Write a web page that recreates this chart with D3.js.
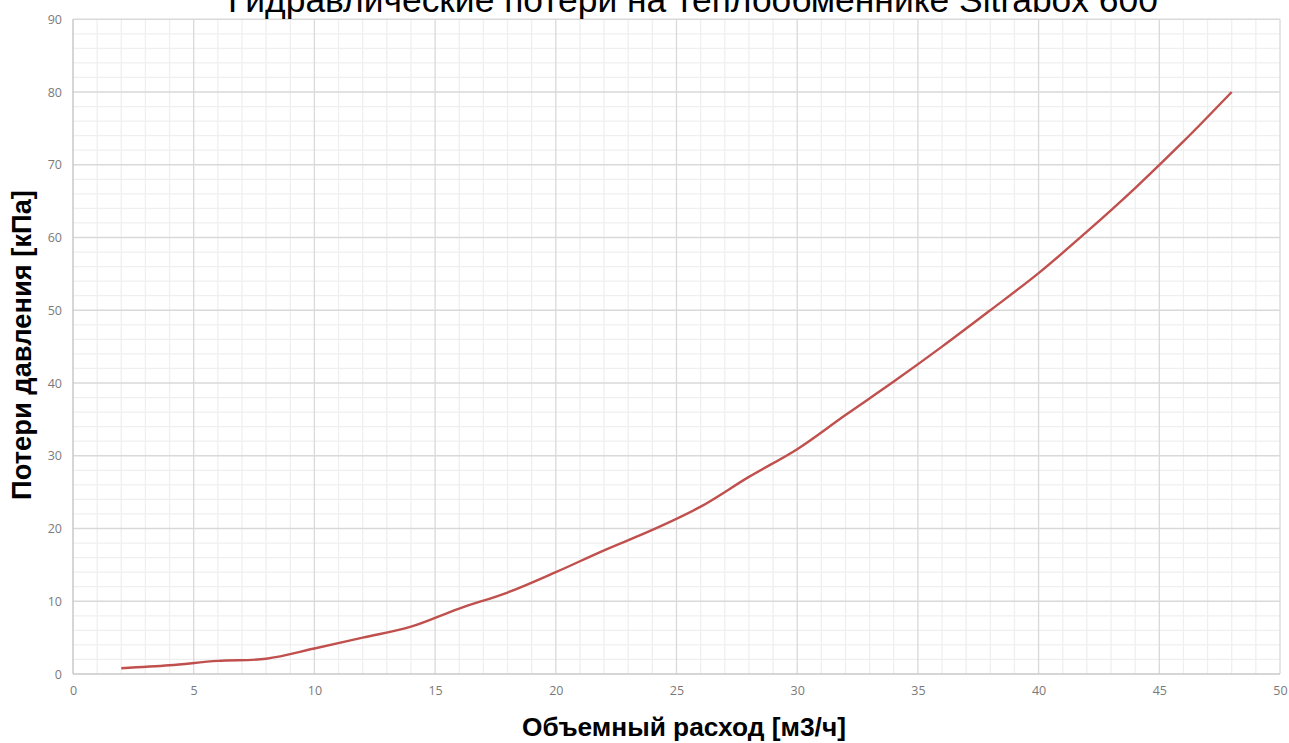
<!DOCTYPE html>
<html><head><meta charset="utf-8">
<script src="https://cdn.jsdelivr.net/npm/d3@7"></script>
<style>body{margin:0;background:#fff;}svg{display:block;}</style>
</head><body>
<svg id="c" width="1289" height="743"></svg>
<script>
const titleText = "Гидравлические потери на теплообменнике Sitrabox 600";
const xTitle = "Объемный расход [м3/ч]";
const yTitle = "Потери давления [кПа]";
const flow = [2,4,6,8,10,12,14,16,18,20,22,24,26,28,30,32,34,36,38,40,42,44,46,48];
const loss = [0.8,1.2,1.8,2.1,3.5,5.0,6.5,9.0,11.2,14.0,17.0,19.8,23.0,27.1,30.9,35.6,40.2,45.0,50.0,55.1,60.8,66.8,73.2,80.0];
const xTicks = [0,5,10,15,20,25,30,35,40,45,50];
const yTicks = [0,10,20,30,40,50,60,70,80,90];

const svg = d3.select("#c");
const L=73, R=1280, T=19.25, B=674;
const x = d3.scaleLinear().domain([0,50]).range([L,R]);
const y = d3.scaleLinear().domain([0,90]).range([B,T]);

// minor grid
const g = svg.append("g");
g.selectAll(".mx").data(d3.range(0,51,1).filter(v=>v%5)).enter().append("line")
 .attr("x1",d=>x(d)).attr("x2",d=>x(d)).attr("y1",y(0)).attr("y2",y(90))
 .attr("stroke","#efefef").attr("stroke-width",1.3);
g.selectAll(".my").data(d3.range(0,91,2).filter(v=>v%10)).enter().append("line")
 .attr("y1",d=>y(d)).attr("y2",d=>y(d)).attr("x1",x(0)).attr("x2",x(50))
 .attr("stroke","#efefef").attr("stroke-width",1.3);
// major grid
g.selectAll(".Mx").data(xTicks.slice(1)).enter().append("line")
 .attr("x1",d=>x(d)).attr("x2",d=>x(d)).attr("y1",y(0)).attr("y2",y(90))
 .attr("stroke","#d9d9d9").attr("stroke-width",1.3);
g.selectAll(".My").data(yTicks.slice(1)).enter().append("line")
 .attr("y1",d=>y(d)).attr("y2",d=>y(d)).attr("x1",x(0)).attr("x2",x(50))
 .attr("stroke","#d9d9d9").attr("stroke-width",1.3);
// axis lines
svg.append("line").attr("x1",x(0)).attr("x2",x(50)).attr("y1",y(0)).attr("y2",y(0)).attr("stroke","#c8c8c8").attr("stroke-width",1.5);
svg.append("line").attr("x1",x(0)).attr("x2",x(0)).attr("y1",y(0)).attr("y2",y(90)).attr("stroke","#c8c8c8").attr("stroke-width",1.5);

// tick labels via axes
const xa = svg.append("g").attr("transform",`translate(0,${B})`)
 .call(d3.axisBottom(x).tickValues(xTicks).tickSize(0).tickPadding(12));
const ya = svg.append("g").attr("transform",`translate(${L},0)`)
 .call(d3.axisLeft(y).tickValues(yTicks).tickSize(0).tickPadding(11));
[xa,ya].forEach(a=>{a.select(".domain").remove();
 a.selectAll("text").attr("fill","#7a7a7a").style("font-family","'Open Sans',sans-serif").style("font-size","12.5px");});

// line
svg.append("path").datum(flow.map((d,i)=>[d,loss[i]]))
 .attr("fill","none").attr("stroke","#c0504d").attr("stroke-width",2.4)
 .attr("d",d3.line().x(d=>x(d[0])).y(d=>y(d[1])).curve(d3.curveCatmullRom.alpha(0.5)));

// titles
function fit(sel,w){const n=sel.node();const l=n.getComputedTextLength();const fs=parseFloat(sel.style("font-size"));sel.style("font-size",(fs*w/l)+"px");}
const t = svg.append("text").attr("x",693).attr("y",12).attr("text-anchor","middle")
 .style("font-family","'Liberation Sans',Arial,sans-serif").style("font-size","30px").attr("fill","#000").text(titleText);
fit(t,930);
const xt = svg.append("text").attr("x",684).attr("y",736).attr("text-anchor","middle")
 .style("font-family","'Liberation Sans',Arial,sans-serif").style("font-weight","bold").style("font-size","22px").attr("fill","#000").text(xTitle);
fit(xt,324);
const yt = svg.append("text").attr("transform","translate(31,345) rotate(-90)").attr("text-anchor","middle")
 .style("font-family","'Liberation Sans',Arial,sans-serif").style("font-weight","bold").style("font-size","22px").attr("fill","#000").text(yTitle);
fit(yt,310);
</script>
</body></html>
